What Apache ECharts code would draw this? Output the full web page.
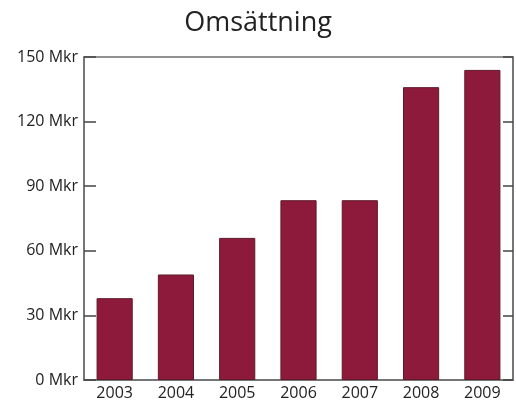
<!DOCTYPE html>
<html><head><meta charset="utf-8">
<script src="https://cdn.jsdelivr.net/npm/echarts@6/dist/echarts.min.js"></script>
<style>html,body{margin:0;padding:0;background:#fff}#c{width:516px;height:402px}</style>
</head><body><div id="c"></div>
<script>
const title = 'Omsättning';
const categories = ['2003','2004','2005','2006','2007','2008','2009'];
const values = [38, 49, 66, 83.5, 83.5, 136, 144];
const yTicks = [0, 30, 60, 90, 120, 150];
const unit = ' Mkr';

const chart = echarts.init(document.getElementById('c'));
const font = '"Open Sans", "Noto Sans", sans-serif';
const lineCol = '#6e6e6e';
chart.setOption({
  animation: false,
  title: {text: title, left: 'center', top: 5,
    textStyle: {fontFamily: font, fontSize: 27, fontWeight: 'normal', color: '#222'}},
  grid: {left: 84, right: 3, top: 57, bottom: 22, show: true, borderColor: lineCol, borderWidth: 1.5},
  xAxis: {type: 'category', data: categories,
    axisLine: {show: true, lineStyle: {color: lineCol, width: 1.5}},
    axisTick: {show: false},
    axisLabel: {fontFamily: font, fontSize: 16, color: '#222', margin: 5}},
  yAxis: [
    {type: 'value', min: yTicks[0], max: yTicks[yTicks.length-1], interval: 30,
      axisLine: {show: true, lineStyle: {color: lineCol, width: 1.5}},
      axisTick: {show: true, inside: true, length: 12, lineStyle: {color: '#444', width: 1.5}},
      splitLine: {show: false},
      axisLabel: {fontFamily: font, fontSize: 16, color: '#222', margin: 6,
        formatter: v => v + unit}},
    {type: 'value', position: 'right', min: yTicks[0], max: yTicks[yTicks.length-1], interval: 30,
      axisLine: {show: true, lineStyle: {color: lineCol, width: 1.5}},
      axisTick: {show: true, inside: true, length: 10, lineStyle: {color: '#444', width: 1.5}},
      splitLine: {show: false},
      axisLabel: {show: false}}
  ],
  series: [{type: 'bar', data: values, barCategoryGap: '41%',
    itemStyle: {color: '#8e1a3b', borderColor: '#5e1a2a', borderWidth: 1}}]
});
</script></body></html>
